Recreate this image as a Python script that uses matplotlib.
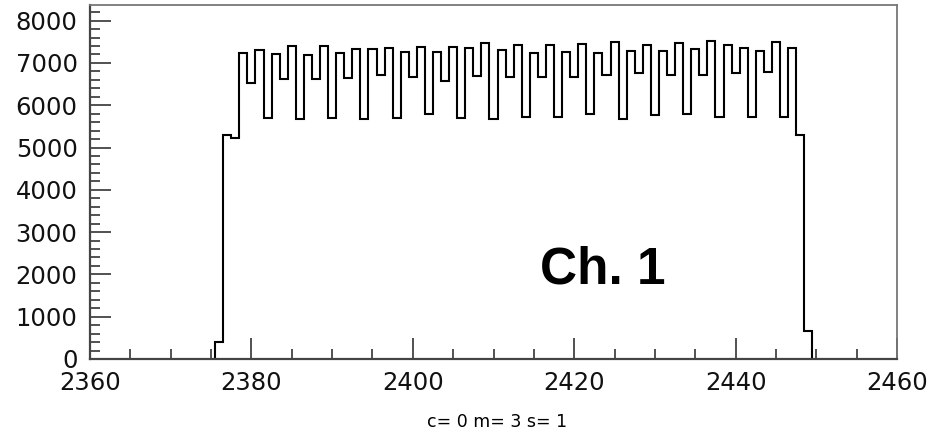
import numpy as np
import matplotlib
matplotlib.use("Agg")
import matplotlib.pyplot as plt
import matplotlib.transforms as mtransforms
from matplotlib.ticker import MultipleLocator

# Channel 1 histogram, unit-width bins centred on integers
first_bin = 2376
counts = [
    390, 5290, 5230,                                   # 2376-2378
    7240, 6530, 7305, 5700, 7210, 6620, 7400, 5670,    # 2379-2386
    7190, 6620, 7400, 5700, 7225, 6635, 7320, 5670,    # 2387-2394
    7320, 6715, 7345, 5690, 7265, 6675, 7385, 5790,    # 2395-2402
    7265, 6575, 7385, 5690, 7345, 6690, 7465, 5670,    # 2403-2410
    7305, 6660, 7425, 5710, 7240, 6675, 7425, 5730,    # 2411-2418
    7265, 6675, 7450, 5790, 7225, 6715, 7505, 5670,    # 2419-2426
    7280, 6755, 7425, 5765, 7290, 6715, 7480, 5790,    # 2427-2434
    7320, 6715, 7530, 5710, 7425, 6770, 7345, 5710,    # 2435-2442
    7290, 6795, 7505, 5710, 7345,                      # 2443-2447
    5290, 670,                                         # 2448-2449
]
label = "Ch. 1"
footer = "c= 0 m= 3 s= 1"

edges = first_bin - 0.5 + np.arange(len(counts) + 1)

fig = plt.figure(figsize=(9.29, 4.38), dpi=100)
ax = fig.add_axes([0.0969, 0.1804, 0.8687, 0.8082])

ax.stairs(counts, edges, baseline=0, color="black", linewidth=1.5)

ax.set_xlim(2360, 2460)
ax.set_ylim(0, 8370)

ax.xaxis.set_major_locator(MultipleLocator(20))
ax.xaxis.set_minor_locator(MultipleLocator(5))
ax.yaxis.set_major_locator(MultipleLocator(1000))
ax.yaxis.set_minor_locator(MultipleLocator(200))

ax.tick_params(which="both", direction="in", colors="#333333", width=1.2,
               top=False, right=False, labelcolor="#111111")
ax.tick_params(which="major", length=15, labelsize=17.5)
ax.tick_params(which="minor", length=7)
ax.tick_params(axis="x", pad=9)
ax.tick_params(axis="y", pad=9)

for side in ["left", "bottom"]:
    ax.spines[side].set_color("#444444")
    ax.spines[side].set_linewidth(1.6)
for side in ["top", "right"]:
    ax.spines[side].set_color("#777777")
    ax.spines[side].set_linewidth(1.3)

# nudge the "0" label up a little so it sits above "2360", as in ROOT
fig.canvas.draw()
zero_lbl = ax.get_yticklabels()[0]
zero_lbl.set_transform(zero_lbl.get_transform() +
                       mtransforms.ScaledTranslation(0, 4 / 72, fig.dpi_scale_trans))

ax.text(0.558, 0.213, label, transform=ax.transAxes, fontsize=37,
        fontweight="bold", family="Liberation Sans", ha="left", va="baseline")

fig.text(0.535, 0.026, footer, fontsize=12.5, ha="center", va="baseline")

fig.savefig("out.png", dpi=100)
